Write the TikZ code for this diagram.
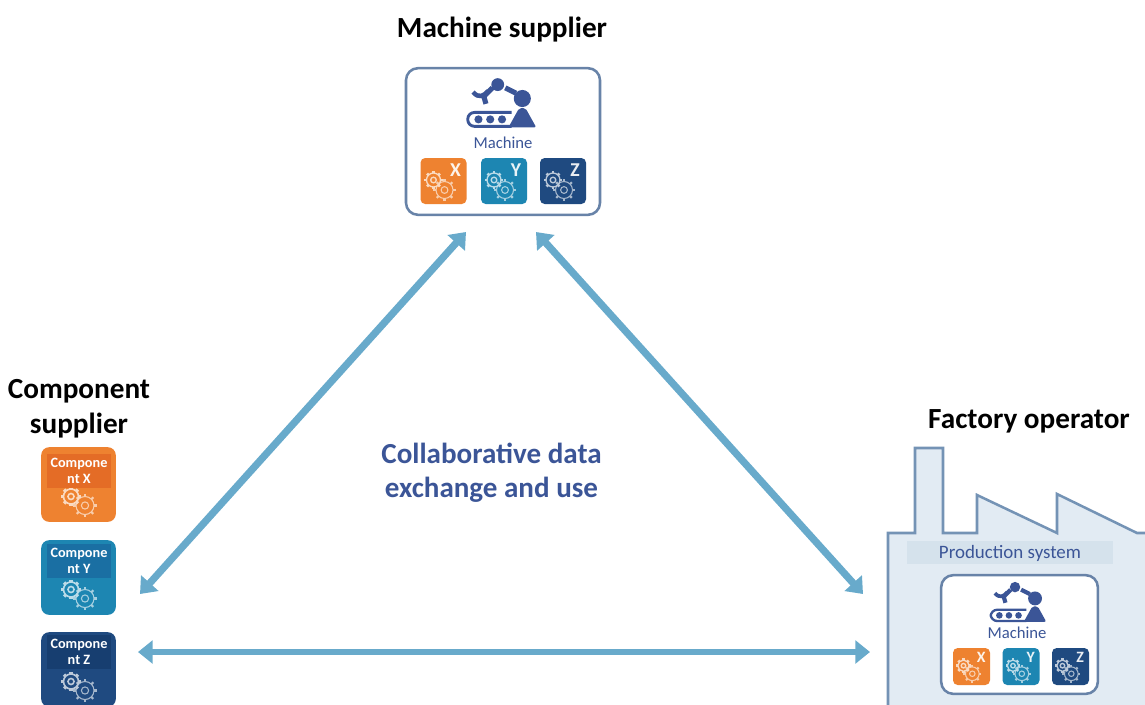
\documentclass[tikz,border=0pt]{standalone}
\usepackage{fontspec}
\setmainfont{Carlito}
\usetikzlibrary{arrows.meta}
\definecolor{inkblue}{HTML}{3B5597}
\definecolor{framegrey}{HTML}{6883A8}
\definecolor{linkblue}{HTML}{68AACB}
\definecolor{wallblue}{HTML}{E2EBF3}
\definecolor{bandblue}{HTML}{D5E2EC}
\definecolor{wallline}{HTML}{7493B5}
\definecolor{xorange}{HTML}{EE8230}
\definecolor{xhead}{HTML}{E46C26}
\definecolor{yteal}{HTML}{1D86B2}
\definecolor{yhead}{HTML}{1A6FA3}
\definecolor{znavy}{HTML}{1F4A80}
\definecolor{zhead}{HTML}{173E70}
% x, y, radius, colour, line width
\newcommand{\gearicon}[5]{
  \draw [#4, line width=#5] (#1,#2) circle (#3);
  \draw [#4, line width=#5] (#1,#2) circle (#3*0.4);
  \foreach \a in {0,45,...,315}
    \draw [#4, line width=#5*2] (#1,#2) ++(\a:#3) -- ++(\a:#3*0.3);
}
% x, y, size
\newcommand{\roboticon}[3]{
  \begin{scope}[shift={(#1,#2)}, scale=#3]
    \draw [inkblue, line width=#3*2pt, rounded corners=5] (9,6) -- (-32,6) -- (-32,19) -- (9,19);
    \foreach \x in {-22,-11,0}
      \fill [inkblue] (\x,12.5) circle (3.8);
    \fill [inkblue] (19,-7) circle (8);
    \fill [inkblue, rounded corners=1.5] (6,20) -- (32,20) -- (22,2) -- (16,2) -- cycle;
    \fill [inkblue] (-4,-20) circle (6);
    \draw [inkblue, line width=#3*3.6pt] (13,-12) -- (3,-17);
    \draw [inkblue, line width=#3*3.6pt] (-9,-17) -- (-17,-9) -- (-15,-2);
    \draw [inkblue, line width=#3*3.2pt] (-27,-13) .. controls (-22,-7) and (-17,-9) .. (-13,-14);
  \end{scope}
}
% name, x, y, size, colour, letter
\newcommand{\mtile}[6]{
  \node [mtilebox, fill=#5, minimum size=#4*0.75pt] (#1) at (#2,#3) {};
  \begin{scope}[shift={(#2,#3)}, scale=#4/46]
    \gearicon{1}{9}{8.5}{white!60!#5}{0.8pt}
    \gearicon{-10}{-1}{7}{white!70!#5}{1pt}
    \pgfmathsetmacro{\letsize}{#4*0.32}
    \node [white!90!#5, font=\bfseries\fontsize{\letsize}{\letsize}\selectfont] (#1let) at (12,-11) {#6};
  \end{scope}
}
% name, y, colour, band colour, letter, band y
\newcommand{\ctile}[6]{
  \node [ctilebox, fill=#3] (#1) at (78.5,#2) {};
  \gearicon{85}{#2+21}{9}{white!60!#3}{0.8pt}
  \gearicon{71}{#2+12}{7.5}{white!70!#3}{1.2pt}
  \node [cband, fill=#4] (#1head) at (79,#6) {Compone\\nt #5};
}
\begin{document}
\begin{tikzpicture}[x=0.75pt, y=-0.75pt]
        \tikzstyle{every node}+=[inner sep=0pt]
        \tikzstyle{title}=[font=\bfseries\fontsize{21.9}{26}\selectfont, align=center]
        \tikzstyle{mbox}=[draw=framegrey, fill=white, line width=1.9pt, rounded corners=9pt]
        \tikzstyle{mlabel}=[text=inkblue, font=\fontsize{12.5}{14}\selectfont]
        \tikzstyle{mtilebox}=[rounded corners=3.5pt]
        \tikzstyle{ctilebox}=[minimum size=56pt, rounded corners=6pt]
        \tikzstyle{cband}=[minimum width=48pt, minimum height=25pt, text=white, align=center, font=\bfseries\fontsize{10.7}{12}\selectfont]
        \tikzstyle{link}=[linkblue, line width=5.4pt, {Triangle[width=17pt,length=11pt]}-{Triangle[width=17pt,length=11pt]}]
        \clip (0,0) rectangle (1145,704);

        % factory
        \draw [draw=wallline, fill=wallblue, line width=1.9pt] (888,710) -- (888,533) -- (915,533) -- (915,448) -- (943,448) -- (943,533) -- (977,533) -- (977,495) -- (1057,533) -- (1057,494) -- (1137,533) -- (1150,533) -- (1150,710) -- cycle;
        \node [fill=bandblue, minimum width=154.5pt, minimum height=17.5pt] (band) at (1010,552.5) {};
        \node [text=inkblue, font=\fontsize{14.2}{15}\selectfont] (prodlabel) at (1010,553) {Production system};

        % machine supplier
        \node [title] (msupplier) at (502,29.5) {Machine supplier};
        \node [mbox, minimum width=145.5pt, minimum height=110pt] (mbox1) at (503,141.5) {};
        \roboticon{502}{106}{1.07}
        \node [mlabel] (mlabel1) at (503,143) {Machine};
        \mtile{xa}{443.5}{181}{46}{xorange}{X}
        \mtile{ya}{504}{181}{46}{yteal}{Y}
        \mtile{za}{563}{181}{46}{znavy}{Z}

        % factory operator
        \node [title] (foperator) at (1029,421) {Factory operator};
        \node [mbox, minimum width=117.5pt, minimum height=89pt] (mbox2) at (1019.5,634.5) {};
        \roboticon{1018.5}{604.5}{0.87}
        \node [mlabel] (mlabel2) at (1017,633) {Machine};
        \mtile{xb}{971.5}{666.5}{37}{xorange}{X}
        \mtile{yb}{1021}{666.5}{37}{yteal}{Y}
        \mtile{zb}{1070.5}{666.5}{37}{znavy}{Z}

        % component supplier
        \node [title] (csupplier) at (79,409) {Component\\supplier};
        \ctile{cx}{484.5}{xorange}{xhead}{X}{471}
        \ctile{cy}{577.5}{yteal}{yhead}{Y}{561}
        \ctile{cz}{669.5}{znavy}{zhead}{Z}{652}

        \node [title, text=inkblue, font=\bfseries\fontsize{21.8}{25.5}\selectfont] (exchange) at (491.5,473) {Collaborative data\\exchange and use};

        % arrows
        \coordinate (mleft) at (466,232);
        \coordinate (mright) at (536,232);
        \coordinate (cdiag) at (140,594);
        \coordinate (fdiag) at (863,594);
        \coordinate (cflat) at (138,652);
        \coordinate (fflat) at (870,652);
        \draw [link] (cdiag) -- (mleft);
        \draw [link] (mright) -- (fdiag);
        \draw [link, line width=5pt] (cflat) -- (fflat);
    \end{tikzpicture}
\end{document}
